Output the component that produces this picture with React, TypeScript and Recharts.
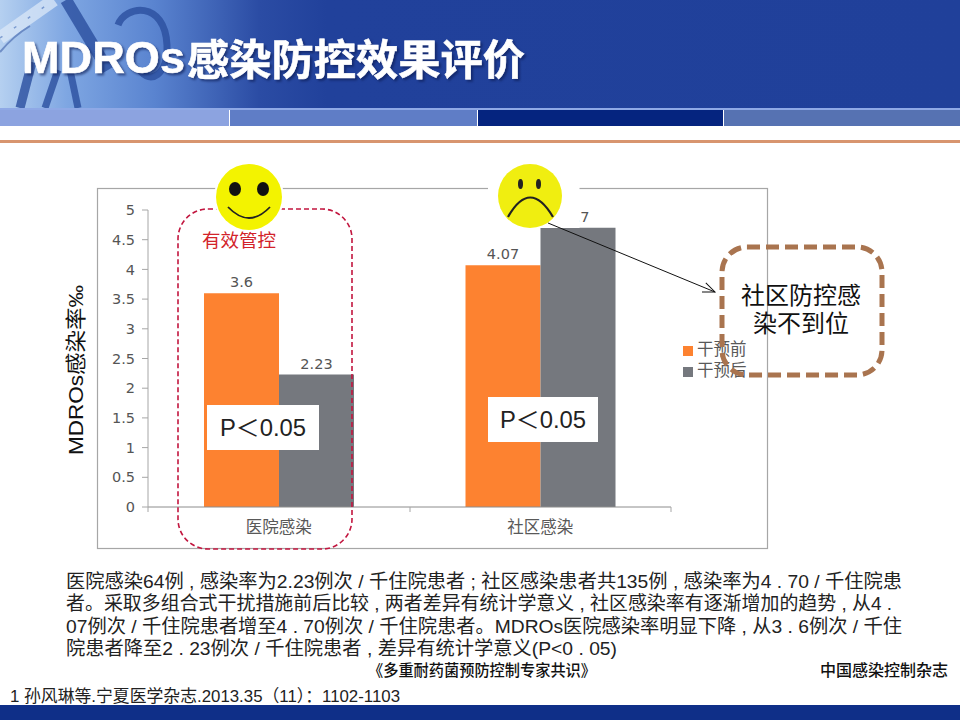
import React from "react";
import { BarChart, Bar, XAxis, YAxis, Legend, LabelList } from "recharts";

const categories = ["医院感染", "社区感染"];
const beforeValues = [3.6, 4.07];
const afterValues = [2.23, 4.7];
const yTicks = [0, 0.5, 1, 1.5, 2, 2.5, 3, 3.5, 4, 4.5, 5];
const seriesNames = ["干预前", "干预后"];
const seriesColors = ["#fd8230", "#75787e"];
const titleLatin = "MDROs";
const titleCjk = "感染防控效果评价";
const bodyLines = [
  "医院感染64例 , 感染率为2.23例次 / 千住院患者 ; 社区感染患者共135例 , 感染率为4 . 70 / 千住院患",
  "者。采取多组合式干扰措施前后比较 , 两者差异有统计学意义 , 社区感染率有逐渐增加的趋势 , 从4 .",
  "07例次 / 千住院患者增至4 . 70例次 / 千住院患者。MDROs医院感染率明显下降 , 从3 . 6例次 / 千住",
  "院患者降至2 . 23例次 / 千住院患者 , 差异有统计学意义(P<0 . 05)",
];
const bodyWidths = [836, 826, 836, 551];

const data = categories.map((name, i) => ({
  name,
  before: beforeValues[i],
  after: afterValues[i],
}));

const CJK = "'Noto Sans CJK SC','Liberation Sans',sans-serif";
const LATIN_CJK = "'Liberation Sans','Noto Sans CJK SC',sans-serif";
const AXIS = "'DejaVu Sans','Noto Sans CJK SC',sans-serif";
const layer: React.CSSProperties = { position: "absolute", left: 0, top: 0 };
const titleShadow = { filter: "drop-shadow(2px 2px 1px rgba(10,25,80,0.6))" };

function Background() {
  return (
    <svg width={960} height={720} style={layer}>
      <defs>
        <linearGradient id="hdr" x1="0" y1="0" x2="1" y2="0">
          <stop offset="0" stopColor="#b5d0f0" />
          <stop offset="0.07" stopColor="#7ea6e2" />
          <stop offset="0.16" stopColor="#5a84d0" />
          <stop offset="0.27" stopColor="#2b4ca4" />
          <stop offset="0.34" stopColor="#21419b" />
          <stop offset="1" stopColor="#20409a" />
        </linearGradient>
      </defs>
      <rect x={0} y={0} width={960} height={720} fill="#ffffff" />
      <rect x={0} y={0} width={960} height={108} fill="url(#hdr)" />
      <g fill="none" stroke="#2b4f9f" opacity={0.8}>
        <path d="M66 0 L108 70" strokeWidth={12} />
        <path d="M20 108 L32 62" strokeWidth={9} />
        <path d="M45 108 L58 70" strokeWidth={7} />
        <path d="M118 25 C125 5 165 0 167 45 C168 75 150 85 140 70" strokeWidth={7} />
        <path d="M70 70 L78 108" strokeWidth={7} />
      </g>
      <g fill="none" opacity={0.75}>
        <path d="M0 38 L54 0" stroke="#dbe8f8" strokeWidth={13} />
        <path d="M0 38 L54 0" stroke="#6f8fc8" strokeWidth={1.5} strokeDasharray="3 14" />
        <path d="M0 52 C10 40 20 32 30 26" stroke="#5878b8" strokeWidth={2} />
      </g>
      <rect x={0} y={108} width={960} height={2} fill="#8fa9e6" />
      <rect x={0} y={110} width={229} height={16} fill="#8ca3e0" />
      <rect x={230} y={110} width={247} height={16} fill="#5f7dc6" />
      <rect x={478} y={110} width={245} height={16} fill="#05247f" />
      <rect x={724} y={110} width={236} height={16} fill="#5672b2" />
      <rect x={0} y={140} width={960} height={3} fill="#d8956f" />
      <rect x={0} y={705} width={960} height={15} fill="#0f2f88" />
      <text x={22} y={73} fontFamily={LATIN_CJK} fontWeight={700} fontSize={45} fill="#ffffff" stroke="#ffffff" strokeWidth={0.6} textLength={163} lengthAdjust="spacingAndGlyphs" style={titleShadow}>
        {titleLatin}
      </text>
      <text x={187} y={75} fontFamily={CJK} fontWeight={700} fontSize={42} fill="#ffffff" stroke="#ffffff" strokeWidth={0.6} textLength={338} lengthAdjust="spacingAndGlyphs" style={titleShadow}>
        {titleCjk}
      </text>
      <rect x={97.5} y={188.5} width={670} height={360} fill="#ffffff" stroke="#a6a6a6" strokeWidth={1.2} />
    </svg>
  );
}

function Overlay() {
  return (
    <svg width={960} height={720} style={layer}>
      <defs>
        <marker id="open" markerUnits="userSpaceOnUse" markerWidth={14} markerHeight={12} refX={13} refY={6} orient="auto">
          <path d="M1 1 L13 6 L1 11" fill="none" stroke="#111111" strokeWidth={1} />
        </marker>
      </defs>
      <text transform="translate(83,370) rotate(-90)" textAnchor="middle" fontFamily={LATIN_CJK} fontSize={21} fill="#111111" textLength={170} lengthAdjust="spacingAndGlyphs">
        MDROs感染率‰
      </text>

      <path d="M148 507 V512 M410 507 V512 M671 507 V512" stroke="#a6a6a6" strokeWidth={1} fill="none" />

      <rect x={178} y={209} width={174} height={340} rx={30} fill="none" stroke="#c2163f" strokeWidth={1.6} strokeDasharray="5 3" />
      <text x={239} y={247} textAnchor="middle" fontFamily={CJK} fontSize={18.5} fill="#d2232a">有效管控</text>

      <circle cx={249} cy={197} r={35} fill="#ffffff" />
      <circle cx={249} cy={197} r={33} fill="#f3f300" />
      <ellipse cx={235} cy={189} rx={6} ry={7} fill="#111111" />
      <ellipse cx={263} cy={189} rx={6} ry={7} fill="#111111" />
      <path d="M228 207 Q249 229 270 207" fill="none" stroke="#222222" strokeWidth={1.8} />

      <rect x={488} y={160} width={91.5} height={68} fill="#ffffff" />
      <circle cx={530} cy={196} r={32} fill="#f0ee10" />
      <ellipse cx={520.5} cy={184} rx={2.5} ry={5} fill="#222222" />
      <ellipse cx={538.5} cy={184} rx={2.5} ry={5} fill="#222222" />
      <path d="M508 217 Q530 178 553 217" fill="none" stroke="#222222" strokeWidth={2.2} />

      <rect x={207} y={405} width={112} height={45} fill="#ffffff" />
      <text x={220} y={436} fontFamily={LATIN_CJK} fontSize={23} fill="#222222" textLength={86} lengthAdjust="spacingAndGlyphs">P＜0.05</text>
      <rect x={488} y={397} width={110} height={45} fill="#ffffff" />
      <text x={500} y={428} fontFamily={LATIN_CJK} fontSize={23} fill="#222222" textLength={86} lengthAdjust="spacingAndGlyphs">P＜0.05</text>

      <line x1={548} y1={223} x2={715} y2={292} stroke="#111111" strokeWidth={1} markerEnd="url(#open)" />

      <rect x={722} y={247} width={160} height={128} rx={25} fill="none" stroke="#a9744f" strokeWidth={5} strokeDasharray="13 6" />
      <text x={801} y={304} textAnchor="middle" fontFamily={CJK} fontSize={24} fill="#111111">社区防控感</text>
      <text x={801} y={332} textAnchor="middle" fontFamily={CJK} fontSize={24} fill="#111111">染不到位</text>

      {bodyLines.map((line, i) => (
        <text key={i} x={66} y={588 + i * 22.4} fontFamily={LATIN_CJK} fontSize={19} fill="#222222" textLength={bodyWidths[i]} lengthAdjust="spacingAndGlyphs">
          {line}
        </text>
      ))}
      <text x={368} y={676} fontFamily={CJK} fontSize={16} fontWeight={500} fill="#111111" textLength={228} lengthAdjust="spacingAndGlyphs">《多重耐药菌预防控制专家共识》</text>
      <text x={820} y={676} fontFamily={CJK} fontSize={16} fontWeight={500} fill="#111111" textLength={128} lengthAdjust="spacingAndGlyphs">中国感染控制杂志</text>
      <text x={10} y={702} fontFamily={LATIN_CJK} fontSize={17} fill="#222222" textLength={390} lengthAdjust="spacingAndGlyphs">1 孙风琳等.宁夏医学杂志.2013.35（11）：1102-1103</text>
    </svg>
  );
}

export default function App() {
  return (
    <div style={{ position: "fixed", left: 0, top: 0, width: 960, height: 720, overflow: "hidden", background: "#fff" }}>
      <Background />
      <div style={layer}>
        <BarChart
          width={960}
          height={720}
          data={data}
          margin={{ top: 210, right: 289, bottom: 183, left: 98 }}
          barCategoryGap={56}
          barGap={0}
        >
          <XAxis
            dataKey="name"
            height={30}
            stroke="#8c8c8c"
            tick={{ fill: "#595959", fontSize: 16.5, fontFamily: CJK }}
            tickLine={false}
            tickMargin={8}
            interval={0}
          />
          <YAxis
            width={50}
            domain={[0, 5]}
            ticks={yTicks}
            interval={0}
            stroke="#a6a6a6"
            tick={{ fill: "#555555", fontSize: 14.5, fontFamily: AXIS }}
            tickLine={{ stroke: "#a6a6a6" }}
            tickMargin={7}
          />
          <Legend
            layout="vertical"
            verticalAlign="middle"
            align="center"
            iconType="square"
            iconSize={10}
            wrapperStyle={{ left: 683, top: 338, width: 90, lineHeight: "21px", fontSize: 16.5, fontFamily: CJK, textAlign: "left" }}
            formatter={(value: string) => <span style={{ color: "#595959" }}>{value}</span>}
          />
          <Bar dataKey="before" name={seriesNames[0]} fill={seriesColors[0]} isAnimationActive={false}>
            <LabelList dataKey="before" position="top" offset={6} fill="#555555" fontSize={14.5} fontFamily={AXIS} />
          </Bar>
          <Bar dataKey="after" name={seriesNames[1]} fill={seriesColors[1]} isAnimationActive={false}>
            <LabelList dataKey="after" position="top" offset={6} fill="#555555" fontSize={14.5} fontFamily={AXIS} />
          </Bar>
        </BarChart>
      </div>
      <Overlay />
    </div>
  );
}
